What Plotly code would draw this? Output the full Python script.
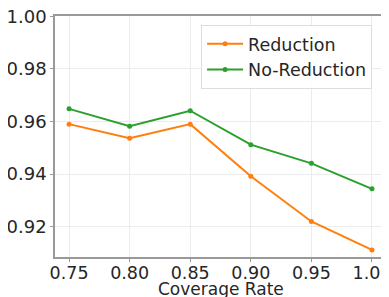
import plotly.graph_objects as go

coverage = [0.75, 0.80, 0.85, 0.90, 0.95, 1.00]
reduction = [0.9590, 0.9536, 0.9590, 0.9392, 0.9220, 0.9112]
no_reduction = [0.9648, 0.9582, 0.9641, 0.9512, 0.9441, 0.9344]
x_ticks = [0.75, 0.80, 0.85, 0.90, 0.95, 1.00]
y_ticks = [0.92, 0.94, 0.96, 0.98, 1.00]

fig = go.Figure()
fig.add_trace(go.Scatter(x=coverage, y=reduction, mode="lines+markers", name="Reduction",
                         line=dict(color="#ff7f0e", width=2), marker=dict(size=5, color="#ff7f0e")))
fig.add_trace(go.Scatter(x=coverage, y=no_reduction, mode="lines+markers", name="No-Reduction",
                         line=dict(color="#2ca02c", width=2), marker=dict(size=5, color="#2ca02c")))

# page body has an 8px margin, so the layout is offset/sized to compensate
fig.update_layout(
    width=381, height=289,
    margin=dict(l=47, r=2, t=8, b=40, autoexpand=False),
    paper_bgcolor="white", plot_bgcolor="white",
    font=dict(family="DejaVu Sans", size=16, color="#262626"),
    showlegend=True,
    legend=dict(x=0.44, y=0.963, xanchor="left", yanchor="top",
                bgcolor="rgba(255,255,255,0.9)", bordercolor="#dddddd", borderwidth=1,
                font=dict(size=17.5), itemwidth=36, tracegroupgap=0),
    annotations=[dict(text="Coverage Rate", xref="paper", yref="paper", x=0.5, y=-0.133,
                      xanchor="center", yanchor="middle", showarrow=False,
                      font=dict(size=17))],
)
fig.update_xaxes(range=[0.7384, 1.0124], tickvals=x_ticks, ticktext=[f"{v:.2f}" for v in x_ticks],
                 showgrid=True, gridcolor="#ececec", gridwidth=1,
                 showline=True, linecolor="#999999", linewidth=1.5, mirror=True,
                 ticks="outside", ticklen=3, tickcolor="#999999",
                 tickfont=dict(size=17.5), automargin=False, ticklabelstandoff=-4,
                 ticklabeloverflow="allow", zeroline=False)
fig.update_yaxes(range=[0.9085, 1.0001], tickvals=y_ticks, ticktext=[f"{v:.2f}" for v in y_ticks],
                 showgrid=True, gridcolor="#ececec", gridwidth=1,
                 showline=True, linecolor="#999999", linewidth=1.5, mirror=True,
                 ticks="outside", ticklen=3, tickcolor="#999999",
                 tickfont=dict(size=18), automargin=False, ticklabeloverflow="allow",
                 zeroline=False)

fig.write_html("out.html")
